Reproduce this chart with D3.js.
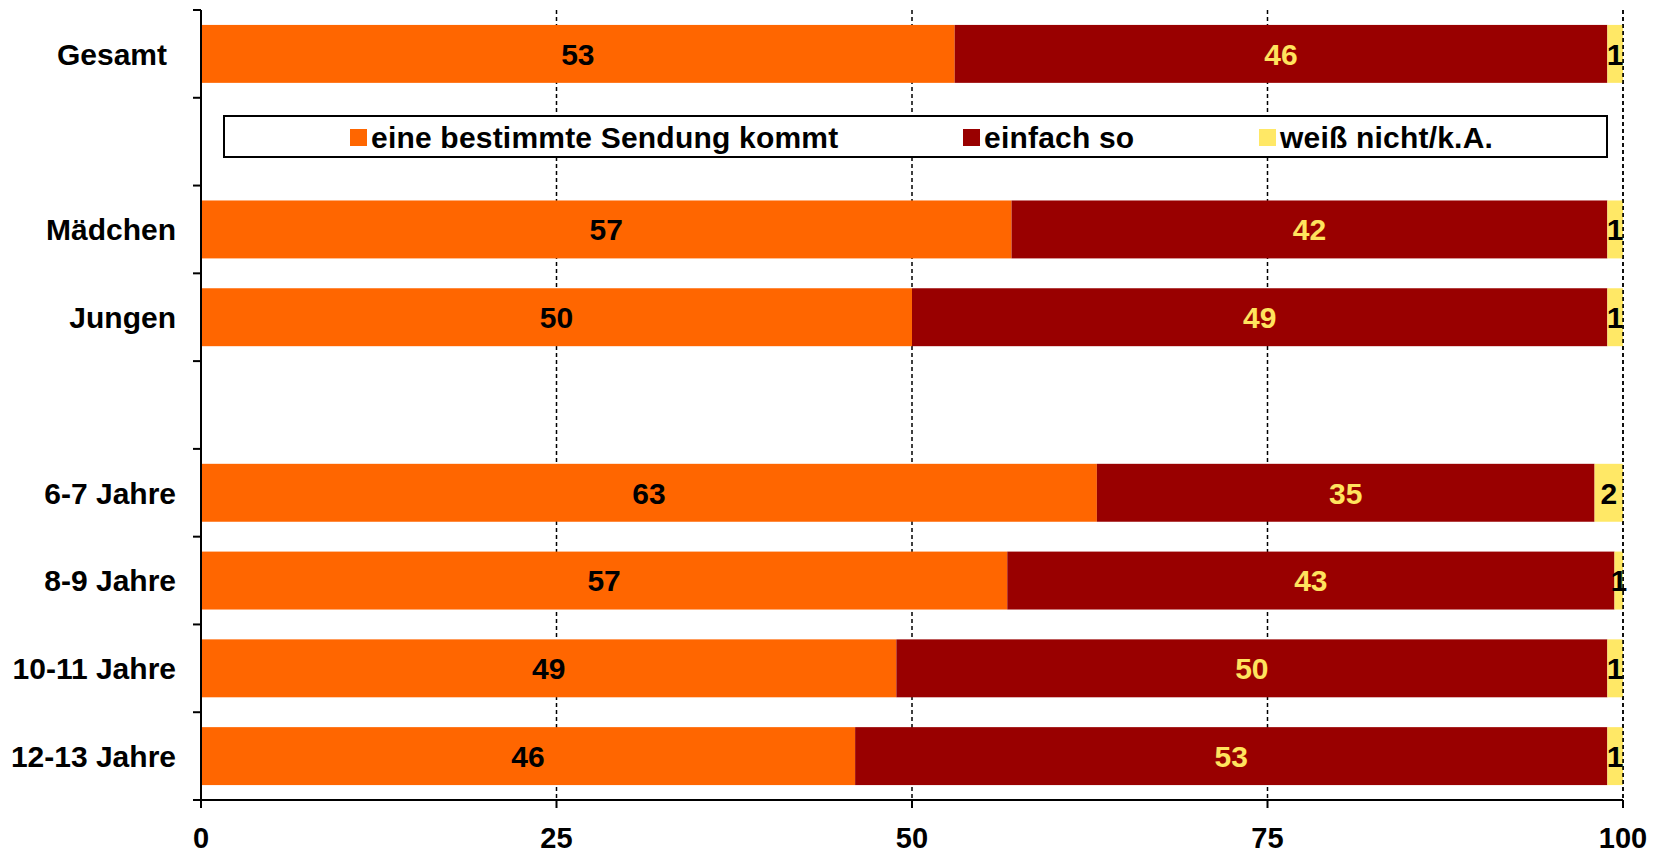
<!DOCTYPE html>
<html>
<head>
<meta charset="utf-8" />
<title>Sendung</title>
<script src="https://d3js.org/d3.v7.min.js"></script>
<style>
  body { margin: 0; background: #fff; }
  svg text { font-family: "Liberation Sans", Arial, sans-serif; font-weight: bold; }
</style>
</head>
<body>
<div id="chart"></div>
<script>
// data (share in percent)
var categories = ["Gesamt", "Mädchen", "Jungen", "6-7 Jahre", "8-9 Jahre", "10-11 Jahre", "12-13 Jahre"];
var sendung    = [53.0, 57.0, 50.0, 63.0, 56.7, 48.9, 46.0];
var einfachSo  = [45.9, 41.9, 48.9, 35.0, 42.7, 50.0, 52.9];
var weissNicht = [1.1, 1.1, 1.1, 2.0, 0.6, 1.1, 1.1];
var seriesNames = ["eine bestimmte Sendung kommt", "einfach so", "weiß nicht/k.A."];
var xTicks = [0, 25, 50, 75, 100];

// rows of the category axis, with the empty slots where the legend and the gap sit
var slots = ["Gesamt", "_legend", "Mädchen", "Jungen", "_gap", "6-7 Jahre", "8-9 Jahre", "10-11 Jahre", "12-13 Jahre"];

var colors = ["#FF6600", "#990000", "#FFE866"];
var labelColors = ["#000000", "#FFE35E", "#000000"];

var width = 1665, height = 853;
var margin = {top: 10, left: 201, right: 42, bottom: 53};

var svg = d3.select("#chart").append("svg")
  .attr("width", width)
  .attr("height", height);

var x = d3.scaleLinear()
  .domain([0, 100])
  .range([margin.left, width - margin.right]);

var y = d3.scaleBand()
  .domain(slots)
  .range([margin.top, height - margin.bottom])
  .paddingInner(0.34)
  .paddingOuter(0.17);

var yBottom = height - margin.bottom;

// dashed gridlines
svg.append("g")
  .selectAll("line")
  .data(xTicks.filter(function(d) { return d > 0; }))
  .enter().append("line")
  .attr("x1", function(d) { return x(d); })
  .attr("x2", function(d) { return x(d); })
  .attr("y1", margin.top)
  .attr("y2", yBottom)
  .attr("stroke", "#000")
  .attr("stroke-width", 1.5)
  .attr("stroke-dasharray", "4,3");

// stacked bars
var rows = categories.map(function(c, i) {
  return {cat: c, vals: [sendung[i], einfachSo[i], weissNicht[i]]};
});

var segs = [];
rows.forEach(function(r) {
  var acc = 0;
  r.vals.forEach(function(v, k) {
    segs.push({cat: r.cat, k: k, x0: acc, x1: acc + v, v: v});
    acc += v;
  });
});

svg.append("g")
  .selectAll("rect")
  .data(segs)
  .enter().append("rect")
  .attr("x", function(d) { return x(d.x0); })
  .attr("width", function(d) { return x(d.x1) - x(d.x0); })
  .attr("y", function(d) { return y(d.cat); })
  .attr("height", y.bandwidth())
  .attr("fill", function(d) { return colors[d.k]; });

svg.append("g")
  .selectAll("text")
  .data(segs)
  .enter().append("text")
  .attr("x", function(d) { return x((d.x0 + d.x1) / 2); })
  .attr("y", function(d) { return y(d.cat) + y.bandwidth() / 2; })
  .attr("dy", "0.36em")
  .attr("text-anchor", "middle")
  .attr("fill", function(d) { return labelColors[d.k]; })
  .style("font-size", "30px")
  .text(function(d) { return Math.round(d.v); });

// 100 gridline shows over the small yellow ends
svg.append("line")
  .attr("x1", x(100)).attr("x2", x(100))
  .attr("y1", margin.top).attr("y2", yBottom)
  .attr("stroke", "#000")
  .attr("stroke-width", 1.5)
  .attr("stroke-dasharray", "4,3");

// category axis: line, ticks between slots, labels
svg.append("line")
  .attr("x1", x(0)).attr("x2", x(0))
  .attr("y1", margin.top).attr("y2", yBottom)
  .attr("stroke", "#000").attr("stroke-width", 2);

var step = y.step();
var bounds = d3.range(slots.length + 1).map(function(i) { return margin.top + i * step; });
svg.append("g")
  .selectAll("line")
  .data(bounds)
  .enter().append("line")
  .attr("x1", x(0) - 8).attr("x2", x(0))
  .attr("y1", function(d) { return d; })
  .attr("y2", function(d) { return d; })
  .attr("stroke", "#000").attr("stroke-width", 2);

svg.append("g")
  .selectAll("text")
  .data(categories)
  .enter().append("text")
  .attr("x", function(d) { return d == "Gesamt" ? 167 : 176; })
  .attr("y", function(d) { return y(d) + y.bandwidth() / 2; })
  .attr("dy", "0.36em")
  .attr("text-anchor", "end")
  .style("font-size", "30px")
  .text(function(d) { return d; });

// value axis
svg.append("line")
  .attr("x1", x(0)).attr("x2", x(100))
  .attr("y1", yBottom).attr("y2", yBottom)
  .attr("stroke", "#000").attr("stroke-width", 2);

svg.append("g")
  .selectAll("line")
  .data(xTicks)
  .enter().append("line")
  .attr("x1", function(d) { return x(d); })
  .attr("x2", function(d) { return x(d); })
  .attr("y1", yBottom).attr("y2", yBottom + 8)
  .attr("stroke", "#000").attr("stroke-width", 2);

svg.append("g")
  .selectAll("text")
  .data(xTicks)
  .enter().append("text")
  .attr("x", function(d) { return x(d); })
  .attr("y", 848)
  .attr("text-anchor", "middle")
  .style("font-size", "29px")
  .text(function(d) { return d; });

// legend inside the empty slot
var lg = svg.append("g");
lg.append("rect")
  .attr("x", 224).attr("y", 116)
  .attr("width", 1383).attr("height", 41)
  .attr("fill", "#fff")
  .attr("stroke", "#000").attr("stroke-width", 2);

var legendX = [350, 963, 1259];
seriesNames.forEach(function(name, k) {
  lg.append("rect")
    .attr("x", legendX[k]).attr("y", 129)
    .attr("width", 17).attr("height", 17)
    .attr("fill", colors[k]);
  lg.append("text")
    .attr("x", legendX[k] + 21)
    .attr("y", 137)
    .attr("dy", "0.36em")
    .style("font-size", "30px")
    .style("letter-spacing", "0.2px")
    .text(name);
});
</script>
</body>
</html>
